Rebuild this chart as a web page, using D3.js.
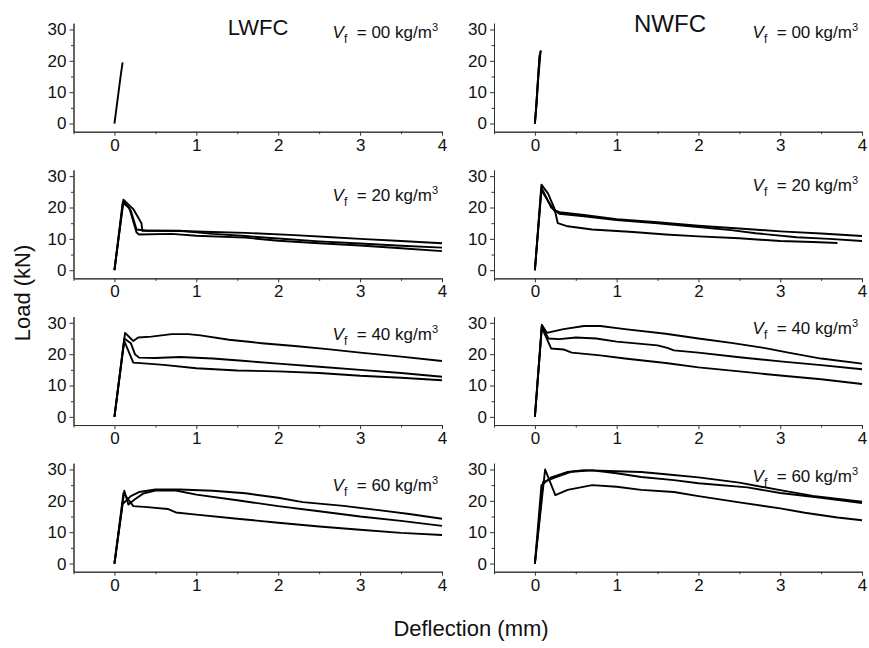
<!DOCTYPE html>
<html>
<head>
<meta charset="utf-8">
<script src="https://cdn.jsdelivr.net/npm/d3@7/dist/d3.min.js"></script>
<style>
  html, body { margin: 0; padding: 0; background: #fff; }
  svg { display: block; font-family: "Liberation Sans", Arial, sans-serif; }
</style>
</head>
<body>
<svg id="chart" width="869" height="648"></svg>
<script>
// Load–deflection curves of fibre-reinforced foamed concrete prisms
// (deflection in mm, load in kN), three specimens per fibre dosage.

const columns = ["LWFC", "NWFC"];
const dosages = ["00", "20", "40", "60"];
const xTicks = [0, 1, 2, 3, 4];
const xMinorTicks = [-0.5, 0.5, 1.5, 2.5, 3.5];
const yTicks = [0, 10, 20, 30];
const yMinorTicks = [5, 15, 25];

// LWFC
const lwfc00a = [[0,0],[0.02,4],[0.05,10],[0.08,16],[0.1,19.5]];

const lwfc20a = [[0,0],[0.11,22.5],[0.23,19.5],[0.33,15],[0.34,12.6],[0.5,12.6],[0.8,12.5],[1.2,12.2],[1.6,11.9],[2.2,11.2],[2.6,10.6],[3,10],[3.5,9.3],[4,8.6]];
const lwfc20b = [[0,0],[0.1,21.5],[0.18,20],[0.27,12],[0.3,11.4],[0.7,11.6],[1,11],[1.6,10.4],[2,9.4],[2.5,8.6],[3,7.9],[3.5,7],[4,6.1]];
const lwfc20c = [[0,0],[0.11,22],[0.2,19],[0.27,13],[0.4,12.6],[0.8,12.6],[1.2,11.6],[1.6,10.9],[2,10.1],[2.5,9.2],[3,8.5],[3.5,7.8],[4,7.2]];

const lwfc40a = [[0,0],[0.13,26.8],[0.23,24.2],[0.29,25.3],[0.45,25.6],[0.7,26.4],[0.9,26.4],[1.05,26],[1.4,24.6],[1.8,23.5],[2.2,22.6],[2.6,21.6],[3,20.5],[3.5,19.2],[4,17.8]];
const lwfc40b = [[0,0],[0.12,25],[0.2,23.5],[0.25,20],[0.3,18.9],[0.5,18.8],[0.8,19.1],[1.2,18.6],[1.6,17.8],[2,17],[2.5,16],[3,15],[3.5,14],[4,12.8]];
const lwfc40c = [[0,0],[0.12,24.2],[0.23,17.3],[0.4,17],[0.6,16.6],[1,15.5],[1.5,14.8],[2,14.5],[2.5,14],[3,13.1],[3.5,12.5],[4,11.7]];

const lwfc60a = [[0,0],[0.1,19],[0.2,21.5],[0.3,22.8],[0.5,23.6],[0.8,23.6],[1.2,23.2],[1.6,22.4],[2,21],[2.3,19.6],[2.8,18.4],[3.3,16.8],[3.6,15.8],[4,14.3]];
const lwfc60b = [[0,0],[0.12,23.2],[0.17,18.8],[0.25,20.5],[0.35,22.3],[0.5,23.3],[0.75,23.3],[1,22],[1.5,20.2],[2,18.3],[2.5,16.7],[3,15],[3.5,13.6],[4,12]];
const lwfc60c = [[0,0],[0.11,22.5],[0.23,18.3],[0.4,18],[0.65,17.4],[0.75,16.3],[1,15.6],[1.5,14.3],[2,13],[2.5,11.8],[3,10.8],[3.5,9.8],[4,9.1]];

// NWFC
const nwfc00a = [[0,0],[0.02,6],[0.04,14],[0.06,20],[0.07,23.2]];
const nwfc00b = [[0,0],[0.015,5],[0.035,13],[0.055,21],[0.065,22.5]];
const nwfc00c = [[0,0],[0.02,7],[0.045,17],[0.06,22],[0.075,23.3]];

const nwfc20a = [[0,0],[0.08,27.3],[0.16,24.5],[0.25,19],[0.3,18.5],[0.6,17.6],[1,16.3],[1.5,15.3],[2,14.2],[2.5,13.3],[3,12.4],[3.5,11.7],[4,10.9]];
const nwfc20b = [[0,0],[0.08,26.3],[0.2,20],[0.3,18],[0.6,17.2],[1,16],[1.5,15],[2,13.8],[2.4,12.8],[2.7,11.8],[3.2,10.5],[3.6,10],[4,9.3]];
const nwfc20c = [[0,0],[0.08,25.5],[0.2,20.5],[0.25,18.5],[0.28,15],[0.4,14],[0.7,13],[1.2,12.2],[1.6,11.4],[2,10.8],[2.5,10.2],[3,9.3],[3.4,9],[3.7,8.7]];

const nwfc40a = [[0,0],[0.085,29.4],[0.145,26.8],[0.35,28],[0.6,29],[0.8,29],[1.1,28],[1.6,26.5],[2,25],[2.4,23.6],[2.8,22],[3.1,20.5],[3.5,18.6],[4,17]];
const nwfc40b = [[0,0],[0.085,29],[0.165,25],[0.3,24.8],[0.5,25.3],[0.75,25],[1,24],[1.5,22.8],[1.62,22],[1.7,21.2],[2,20.5],[2.5,19],[3,17.7],[3.5,16.5],[4,15.2]];
const nwfc40c = [[0,0],[0.085,28.5],[0.2,21.8],[0.35,21.5],[0.45,20.5],[0.8,19.6],[1.1,18.6],[1.6,17.2],[2,15.8],[2.5,14.5],[3,13.2],[3.5,12],[4,10.5]];

const nwfc60a = [[0,0],[0.08,25],[0.2,27.5],[0.4,29.2],[0.6,29.8],[0.9,29.5],[1.3,29.2],[1.6,28.5],[2,27.5],[2.5,25.8],[3,23.4],[3.4,21.6],[4,19.7]];
const nwfc60b = [[0,0],[0.1,26],[0.25,27.5],[0.45,29.3],[0.7,29.7],[1,28.8],[1.3,27.6],[1.7,26.6],[2,25.6],[2.6,24.3],[3,22.5],[3.5,21],[4,19.3]];
const nwfc60c = [[0,0],[0.125,30],[0.25,21.8],[0.4,23.5],[0.7,25],[1,24.5],[1.3,23.5],[1.7,22.8],[2,21.5],[2.5,19.5],[3,17.6],[3.3,16.2],[3.7,14.7],[4,13.8]];

const curves = {
  LWFC: [[lwfc00a], [lwfc20a, lwfc20b, lwfc20c], [lwfc40a, lwfc40b, lwfc40c], [lwfc60a, lwfc60b, lwfc60c]],
  NWFC: [[nwfc00a, nwfc00b, nwfc00c], [nwfc20a, nwfc20b, nwfc20c], [nwfc40a, nwfc40b, nwfc40c], [nwfc60a, nwfc60b, nwfc60c]]
};

// ---- layout ----
const svg = d3.select("#chart");
svg.append("rect").attr("width", 869).attr("height", 648).attr("fill", "#fff");

const colX = { LWFC: [73.5, 442], NWFC: [494, 862] };
const panelH = 108.5;
const firstBottom = 131.7;
const rowStep = 146.67;
// baseline of the dosage label, measured from the panel top
const labelDy = { LWFC: [14.6, 30.7, 23.3, 27.3], NWFC: [14.6, 20.7, 17, 19] };

const axisColor = "#333";
const line = d3.line().x(d => d[0]).y(d => d[1]);

columns.forEach(col => {
  const x = d3.scaleLinear().domain([-0.5, 4]).range(colX[col]);
  dosages.forEach((dose, i) => {
    const bottom = firstBottom + rowStep * i;
    const top = bottom - panelH;
    const y = d3.scaleLinear().domain([-2.6, 32]).range([bottom, top]);
    const g = svg.append("g");

    // axes
    const xAxis = g.append("g").attr("transform", `translate(0,${bottom})`)
      .call(d3.axisBottom(x).tickValues(xTicks).tickFormat(d3.format("d")).tickSize(4).tickPadding(3).tickSizeOuter(0));
    const xMinor = g.append("g").attr("transform", `translate(0,${bottom})`)
      .call(d3.axisBottom(x).tickValues(xMinorTicks).tickFormat("").tickSize(2.5).tickSizeOuter(0));
    const yAxis = g.append("g").attr("transform", `translate(${colX[col][0]},0)`)
      .call(d3.axisLeft(y).tickValues(yTicks).tickFormat(d3.format("d")).tickSize(4).tickPadding(3).tickSizeOuter(0));
    const yMinor = g.append("g").attr("transform", `translate(${colX[col][0]},0)`)
      .call(d3.axisLeft(y).tickValues(yMinorTicks).tickFormat("").tickSize(2.5).tickSizeOuter(0));
    [xAxis, xMinor, yAxis, yMinor].forEach(a => {
      a.selectAll("path, line").attr("stroke", axisColor).attr("stroke-width", 1);
      a.selectAll("text").attr("fill", "#111").style("font-size", "17px")
        .style("font-family", "'Liberation Sans', Arial, sans-serif");
    });

    // curves
    curves[col][i].forEach(series => {
      g.append("path")
        .attr("d", line(series.map(p => [x(p[0]), y(p[1])])))
        .attr("fill", "none").attr("stroke", "#000")
        .attr("stroke-width", 1.9).attr("stroke-linejoin", "round");
    });

    // dosage label
    const t = g.append("text")
      .attr("x", colX[col][1] - 4).attr("y", top + labelDy[col][i])
      .attr("text-anchor", "end").style("font-size", "17px").attr("fill", "#111");
    t.append("tspan").attr("font-style", "italic").text("V");
    t.append("tspan").style("font-size", "12px").attr("dy", 5).text("f");
    t.append("tspan").attr("dy", -5).text(`\u00a0 = ${dose} kg/m`);
    t.append("tspan").style("font-size", "11px").attr("dy", -7).text("3");
  });
});

// column titles
svg.append("text").attr("x", 258).attr("y", 34.5).attr("text-anchor", "middle")
  .style("font-size", "22px").attr("fill", "#111").text("LWFC");
svg.append("text").attr("x", 670).attr("y", 31.7).attr("text-anchor", "middle")
  .style("font-size", "24px").attr("fill", "#111").text("NWFC");

// shared axis titles
svg.append("text").attr("transform", "translate(30,293) rotate(-90)").attr("text-anchor", "middle")
  .style("font-size", "22px").attr("fill", "#111").text("Load (kN)");
svg.append("text").attr("x", 471).attr("y", 636).attr("text-anchor", "middle")
  .style("font-size", "22px").attr("fill", "#111").text("Deflection (mm)");
</script>
</body>
</html>
